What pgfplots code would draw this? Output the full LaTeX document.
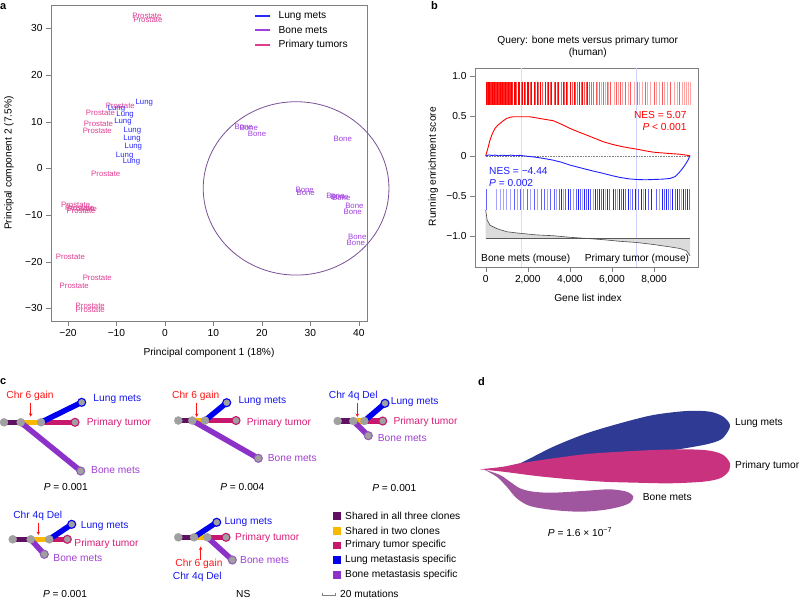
\documentclass[border=0pt]{standalone}
\usepackage{pgfplots}
\pgfplotsset{compat=1.18}
\usepackage{fontspec}
\setmainfont{Liberation Sans}
\usetikzlibrary{arrows.meta}
\definecolor{lungA}{RGB}{40,40,255}
\definecolor{boneA}{RGB}{160,64,224}
\definecolor{primA}{RGB}{224,60,145}
\definecolor{circC}{RGB}{120,80,150}
\definecolor{gRed}{RGB}{255,0,0}
\definecolor{gBlue}{RGB}{30,30,255}
\definecolor{shA}{RGB}{96,16,96}
\definecolor{shB}{RGB}{250,185,0}
\definecolor{primC}{RGB}{200,24,110}
\definecolor{lungC}{RGB}{0,0,240}
\definecolor{boneC}{RGB}{140,50,200}
\definecolor{redT}{RGB}{255,20,20}
\definecolor{lungT}{RGB}{20,20,240}
\definecolor{primT}{RGB}{215,30,120}
\definecolor{boneT}{RGB}{160,64,210}
\definecolor{nodeG}{RGB}{160,160,160}
\definecolor{lungD}{RGB}{46,58,148}
\definecolor{primD}{RGB}{200,50,126}
\definecolor{boneD}{RGB}{160,86,159}
\newcommand{\fs}{\fontsize{10.2bp}{12bp}\selectfont}
\newcommand{\fss}{\fontsize{7.8bp}{9bp}\selectfont}
\newcommand{\fl}{\fontsize{11bp}{13bp}\selectfont\bfseries}
\begin{document}
\begin{tikzpicture}
\path[use as bounding box] (0,0) rectangle (800bp,-599bp);
\node[anchor=west,font=\fl,inner sep=0pt] at (0bp,-7bp) {a};
\node[anchor=west,font=\fl,inner sep=0pt] at (431bp,-6bp) {b};
\node[anchor=west,font=\fl,inner sep=0pt] at (0bp,-382bp) {c};
\node[anchor=west,font=\fl,inner sep=0pt] at (478bp,-382bp) {d};
% ---------------- panel a
\begin{axis}[at={(51bp,-5bp)}, anchor=north west, scale only axis,
  width=316bp, height=316bp,
  xmin=-23.5, xmax=41.7, ymin=-32.7, ymax=35,
  axis line style={gray}, tick style={gray}, tick align=outside,
  xtick pos=bottom, ytick pos=left, major tick length=5bp,
  xtick={-20,-10,0,10,20,30,40}, xticklabels={−20,−10,0,10,20,30,40},
  ytick={-30,-20,-10,0,10,20,30}, yticklabels={−30,−20,−10,0,10,20,30},
  ticklabel style={font=\fs},
  xlabel={Principal component 1 (18\%)}, ylabel={Principal component 2 (7.5\%)},
  label style={font=\fs},
  xlabel style={at={(axis description cs:0.5,-0.1003)}, anchor=center},
  ylabel style={at={(axis description cs:-0.133,0.5)}, anchor=center},
  clip=false,
]
% legend drawn in data units
\addplot[draw=lungA, line width=2bp] coordinates {(18.67,32.74) (21.76,32.74)};
\addplot[draw=boneA, line width=2bp] coordinates {(18.67,29.74) (21.76,29.74)};
\addplot[draw=primA, line width=2bp] coordinates {(18.67,26.53) (21.76,26.53)};
\node[font=\fs, anchor=west, inner sep=0pt] at (axis cs:23.42,32.74) {Lung mets};
\node[font=\fs, anchor=west, inner sep=0pt] at (axis cs:23.42,29.74) {Bone mets};
\node[font=\fs, anchor=west, inner sep=0pt] at (axis cs:23.42,26.53) {Primary tumors};
\addplot[draw=none, mark=none, nodes near coords={Prostate},
  every node near coord/.append style={font=\fss, text=primA, anchor=center, inner sep=0pt}]
coordinates {(-3.7,32.7) (-3.5,31.8) (-9.2,13.3) (-13.3,11.9) (-13.7,9.6) (-13.95,8.0)
 (-12.2,-1.1) (-18.4,-7.9) (-17.6,-8.4) (-17.0,-8.6) (-17.3,-9.1) (-19.5,-18.9)
 (-13.95,-23.4) (-18.7,-25.2) (-15.4,-29.5) (-15.4,-30.3)};
\addplot[draw=none, mark=none, nodes near coords={Lung},
  every node near coord/.append style={font=\fss, text=lungA, anchor=center, inner sep=0pt}]
coordinates {(-4.25,14.1) (-10.0,12.85) (-8.2,11.6) (-8.65,10.1) (-6.7,8.0) (-6.8,6.35)
 (-6.5,4.6) (-8.3,2.8) (-6.9,1.5)};
\addplot[draw=none, mark=none, nodes near coords={Bone},
  every node near coord/.append style={font=\fss, text=boneA, anchor=center, inner sep=0pt}]
coordinates {(16.25,8.8) (17.3,8.6) (19.0,7.5) (36.7,6.3) (28.85,-4.65) (29.05,-5.2)
 (35.2,-5.8) (36.0,-6.2) (36.4,-6.4) (39.1,-8.1) (38.75,-9.3) (39.7,-14.7) (39.4,-15.9)};
\draw[circC, line width=0.8bp] (axis cs:27.07,-4.29) ellipse [x radius=19.16, y radius=18.57];
\end{axis}
% ---------------- panel b
\begin{axis}[at={(475bp,-68.3bp)}, anchor=north west, scale only axis,
  width=223.3bp, height=198.4bp,
  xmin=-508, xmax=10104, ymin=-1.388, ymax=1.096,
  axis line style={gray}, tick style={gray}, tick align=outside,
  xtick pos=bottom, ytick pos=left, major tick length=5bp,
  scaled x ticks=false, scaled y ticks=false,
  xtick={0,2000,4000,6000,8000}, xticklabels={0,{2,000},{4,000},{6,000},{8,000}},
  ytick={-1,-0.5,0,0.5,1}, yticklabels={−1.0,−0.5,0,0.5,1.0},
  ticklabel style={font=\fs},
  xlabel={Gene list index}, ylabel={Running enrichment score},
  label style={font=\fs},
  xlabel style={at={(axis description cs:0.506,-0.159)}, anchor=center},
  ylabel style={at={(axis description cs:-0.187,0.504)}, anchor=center},
  title={Query: bone mets versus primary tumor\\(human)},
  title style={font=\fs, align=center, at={(axis description cs:0.505,1.08)}, anchor=center},
  clip=false,
]
\addplot[red!18, line width=0.6bp] coordinates {(1710,-1.388) (1710,1.096)};
\addplot[blue!18, line width=0.6bp] coordinates {(7180,-1.388) (7180,1.096)};
% red hit bars
\addplot[fill=gRed!85, draw=none] coordinates {(0,0.64) (1300,0.64) (1300,0.93) (0,0.93)};
\addplot[only marks, mark=|, mark size=11.6bp, mark options={gRed, line width=1bp}] coordinates {
 (30,0.785) (120,0.785) (200,0.785) (330,0.785) (420,0.785) (560,0.785) (700,0.785) (820,0.785)
 (950,0.785) (1100,0.785) (1230,0.785) (1350,0.785) (1400,0.785) (1560,0.785) (1620,0.785)
 (1760,0.785) (1850,0.785) (1980,0.785) (2050,0.785) (2200,0.785) (2300,0.785) (2450,0.785)
 (2600,0.785) (2850,0.785) (3000,0.785) (3150,0.785) (3320,0.785) (3480,0.785) (3680,0.785)
 (3830,0.785) (4050,0.785) (4200,0.785) (4450,0.785) (4600,0.785) (4850,0.785)};
\addplot[only marks, mark=|, mark size=11.6bp, mark options={gRed!65, line width=1bp}] coordinates {
 (1480,0.785) (1700,0.785) (1900,0.785) (2130,0.785) (2350,0.785) (2520,0.785) (2680,0.785)
 (2930,0.785) (3080,0.785) (3250,0.785) (3400,0.785) (3600,0.785) (3750,0.785) (3900,0.785)
 (4120,0.785) (4280,0.785) (4350,0.785) (4530,0.785) (4700,0.785) (4780,0.785) (4950,0.785)
 (5020,0.785) (5100,0.785) (5250,0.785) (5420,0.785) (5600,0.785) (5780,0.785) (5950,0.785)
 (6200,0.785) (6400,0.785) (6650,0.785) (6900,0.785) (7200,0.785) (7600,0.785) (8000,0.785)
 (8400,0.785) (8800,0.785) (9200,0.785)};
\addplot[only marks, mark=|, mark size=11.6bp, mark options={gRed!35, line width=1bp}] coordinates {
 (5330,0.785) (5500,0.785) (5680,0.785) (5850,0.785) (6100,0.785) (6300,0.785) (6520,0.785)
 (6780,0.785) (7050,0.785) (7300,0.785) (7450,0.785) (7700,0.785) (7850,0.785) (8100,0.785)
 (8250,0.785) (8500,0.785) (8650,0.785) (8950,0.785) (9100,0.785) (9350,0.785) (9450,0.785)
 (9550,0.785) (9650,0.785) (9740,0.785)};
% blue hit bars
\addplot[only marks, mark=|, mark size=10.5bp, mark options={gBlue!40, line width=1bp}] coordinates {
 (500,-0.5485) (700,-0.5485) (850,-0.5485) (1000,-0.5485) (1200,-0.5485) (1500,-0.5485)
 (1800,-0.5485) (2150,-0.5485) (2450,-0.5485) (2950,-0.5485) (3350,-0.5485) (3700,-0.5485)
 (4150,-0.5485) (4600,-0.5485) (5100,-0.5485) (5700,-0.5485) (6250,-0.5485) (6900,-0.5485)
 (7500,-0.5485) (8250,-0.5485) (8800,-0.5485) (9300,-0.5485)};
\addplot[only marks, mark=|, mark size=10.5bp, mark options={gBlue!70, line width=1bp}] coordinates {
 (60,-0.5485) (1350,-0.5485) (1650,-0.5485) (2000,-0.5485) (2300,-0.5485) (2650,-0.5485)
 (2800,-0.5485) (3100,-0.5485) (3250,-0.5485) (3500,-0.5485) (3800,-0.5485) (4050,-0.5485)
 (4300,-0.5485) (4500,-0.5485) (4800,-0.5485) (5000,-0.5485) (5300,-0.5485) (5500,-0.5485)
 (5900,-0.5485) (6150,-0.5485) (6450,-0.5485) (6650,-0.5485) (7000,-0.5485) (7250,-0.5485)
 (7750,-0.5485) (8100,-0.5485) (8500,-0.5485) (8700,-0.5485) (9000,-0.5485) (9200,-0.5485)
 (9500,-0.5485) (9700,-0.5485)};
\addplot[only marks, mark=|, mark size=10.5bp, mark options={gBlue, line width=1bp}] coordinates {
 (3600,-0.5485) (3950,-0.5485) (4400,-0.5485) (4700,-0.5485) (4900,-0.5485) (5200,-0.5485)
 (5400,-0.5485) (5600,-0.5485) (5800,-0.5485) (6050,-0.5485) (6350,-0.5485) (6550,-0.5485)
 (6800,-0.5485) (7100,-0.5485) (7400,-0.5485) (7600,-0.5485) (7900,-0.5485) (8400,-0.5485)
 (8600,-0.5485) (8900,-0.5485) (9100,-0.5485) (9400,-0.5485) (9600,-0.5485)};
% ranked list metric
\addplot[fill=gray!28, draw=none] coordinates {
 (0,-0.68) (70,-0.805) (204,-0.868) (520,-0.91) (998,-0.95) (1630,-0.97) (2420,-0.99)
 (3210,-1.0) (4010,-1.02) (4800,-1.034) (5590,-1.05) (6380,-1.07) (7180,-1.085) (7970,-1.11)
 (8760,-1.14) (9230,-1.16) (9550,-1.19) (9710,-1.25) (9710,-1.034) (0,-1.034)};
\addplot[gray!70!black, line width=0.9bp] coordinates {(0,-1.034) (9710,-1.034)};
\addplot[gray!60!black, line width=0.6bp] coordinates {
 (0,-0.68) (70,-0.805) (204,-0.868) (520,-0.91) (998,-0.95) (1630,-0.97) (2420,-0.99)
 (3210,-1.0) (4010,-1.02) (4800,-1.034) (5590,-1.05) (6380,-1.07) (7180,-1.085) (7970,-1.11)
 (8760,-1.14) (9230,-1.16) (9550,-1.19) (9710,-1.25)};
\addplot[gray, densely dotted, line width=0.6bp] coordinates {(0,0) (9710,0)};
% running enrichment scores
\addplot[gRed, line width=0.9bp] coordinates {
 (0,0) (100,0.09) (204,0.197) (320,0.28) (442,0.343) (560,0.38) (680,0.405) (840,0.44)
 (998,0.468) (1150,0.482) (1315,0.489) (1700,0.49) (2100,0.489) (2400,0.476) (2740,0.46)
 (3210,0.44) (3600,0.395) (4010,0.343) (4400,0.3) (4800,0.26) (5200,0.218) (5590,0.176)
 (6000,0.145) (6380,0.121) (6800,0.1) (7180,0.084) (7600,0.062) (7970,0.046) (8400,0.036)
 (8760,0.029) (9230,0.02) (9500,0.01) (9710,0)};
\addplot[gBlue, line width=0.9bp] coordinates {
 (0,0) (150,0.012) (300,0.004) (450,0.01) (600,0.0) (800,0.008) (1000,0.002) (1200,0.009)
 (1400,0.001) (1630,0.006) (1900,-0.003) (2260,-0.013) (2700,-0.03) (3210,-0.054) (3600,-0.08)
 (4010,-0.116) (4400,-0.143) (4800,-0.17) (5200,-0.196) (5590,-0.22) (6000,-0.248)
 (6380,-0.27) (6800,-0.288) (7180,-0.296) (7600,-0.3) (7970,-0.296) (8400,-0.292)
 (8760,-0.283) (9000,-0.26) (9160,-0.22) (9320,-0.17) (9470,-0.116) (9600,-0.06) (9710,0)};
\node[font=\fs, text=gRed, anchor=east, inner sep=0pt] at (axis cs:9553,0.51) {NES = 5.07};
\node[font=\fs, text=gRed, anchor=east, inner sep=0pt] at (axis cs:9553,0.363) {\textit{P} < 0.001};
\node[font=\fs, text=gBlue, anchor=west, inner sep=0pt] at (axis cs:157,-0.188) {NES = −4.44};
\node[font=\fs, text=gBlue, anchor=west, inner sep=0pt] at (axis cs:157,-0.338) {\textit{P} = 0.002};
\node[font=\fs, anchor=west, inner sep=0pt] at (axis cs:-223,-1.285) {Bone mets (mouse)};
\node[font=\fs, anchor=east, inner sep=0pt] at (axis cs:9677,-1.285) {Primary tumor (mouse)};
\end{axis}
% ---------------- panels c and d (pixel-unit axis)
\begin{axis}[at={(0bp,-370bp)}, anchor=north west, scale only axis,
  width=800bp, height=229bp, xmin=0, xmax=800, ymin=370, ymax=599,
  y dir=reverse, hide axis, clip=false]
% --- tree 1
\addplot[shA, line width=5.5bp] coordinates {(4,422.3) (20.7,422.3)};
\addplot[shB, line width=5.5bp] coordinates {(20.7,422.3) (41,422.3)};
\addplot[primC, line width=5.5bp] coordinates {(41,422.3) (75,422.3)};
\addplot[boneC, line width=5.5bp] coordinates {(20.7,422.3) (80.7,471)};
\addplot[lungC, line width=5.5bp] coordinates {(41,422.3) (81.7,402.3)};
% --- tree 2
\addplot[shA, line width=5.5bp] coordinates {(178.3,420.5) (192.3,420.5)};
\addplot[shB, line width=5.5bp] coordinates {(192.3,420.5) (205,420.5)};
\addplot[primC, line width=5.5bp] coordinates {(205,420.5) (236,420.5)};
\addplot[boneC, line width=5.5bp] coordinates {(192.3,420.5) (258.3,458.3)};
\addplot[lungC, line width=5.5bp] coordinates {(205,420.5) (226.7,402.7)};
% --- tree 3
\addplot[shA, line width=5.5bp] coordinates {(337.7,421) (353.3,421)};
\addplot[shB, line width=5.5bp] coordinates {(353.3,421) (364.3,421)};
\addplot[primC, line width=5.5bp] coordinates {(364.3,421) (382.7,421)};
\addplot[boneC, line width=5.5bp] coordinates {(353.3,421) (368.3,435.7)};
\addplot[lungC, line width=5.5bp] coordinates {(364.3,421) (385,403.3)};
% --- tree 4
\addplot[shA, line width=5.5bp] coordinates {(12.7,539.3) (30.7,539.3)};
\addplot[shB, line width=5.5bp] coordinates {(30.7,539.3) (49.3,539.3)};
\addplot[primC, line width=5.5bp] coordinates {(49.3,539.3) (67.3,539.3)};
\addplot[boneC, line width=5.5bp] coordinates {(30.7,539.3) (44.3,554.3)};
\addplot[lungC, line width=5.5bp] coordinates {(49.3,539.3) (71.7,524.3)};
% --- tree 5
\addplot[shA, line width=5.5bp] coordinates {(178.3,537.3) (194,537.3)};
\addplot[shB, line width=5.5bp] coordinates {(194,537.3) (207.3,537.3)};
\addplot[primC, line width=5.5bp] coordinates {(207.3,537.3) (226,537.3)};
\addplot[boneC, line width=5.5bp] coordinates {(207.3,537.3) (232.3,560)};
\addplot[lungC, line width=5.5bp] coordinates {(194,537.3) (216.7,522.3)};
% nodes
\addplot[only marks, mark=*, mark size=4bp, mark options={fill=nodeG, draw=nodeG}] coordinates {
 (4,422.3) (20.7,422.3) (41,422.3) (178.3,420.5) (192.3,420.5) (205,420.5)
 (337.7,421) (353.3,421) (364.3,421) (12.7,539.3) (30.7,539.3) (49.3,539.3)
 (178.3,537.3) (194,537.3) (207.3,537.3)};
\addplot[only marks, mark=*, mark size=4bp, mark options={fill=nodeG, draw=primC, line width=1.1bp}] coordinates {
 (75,422.3) (236,420.5) (382.7,421) (67.3,539.3) (226,537.3)};
\addplot[only marks, mark=*, mark size=4bp, mark options={fill=nodeG, draw=lungC, line width=1.1bp}] coordinates {
 (81.7,402.3) (226.7,402.7) (385,403.3) (71.7,524.3) (216.7,522.3)};
\addplot[only marks, mark=*, mark size=4bp, mark options={fill=nodeG, draw=boneC!60!nodeG, line width=1.1bp}] coordinates {
 (80.7,471) (258.3,458.3) (368.3,435.7) (44.3,554.3) (232.3,560)};
% arrows
\addplot[redT, line width=0.8bp, -{Stealth[length=3.5bp,width=3.5bp]}] coordinates {(30.7,403) (30.7,416.7)};
\addplot[redT, line width=0.8bp, -{Stealth[length=3.5bp,width=3.5bp]}] coordinates {(196.7,403) (196.7,417)};
\addplot[redT, line width=0.8bp, -{Stealth[length=3.5bp,width=3.5bp]}] coordinates {(357.3,403) (357.3,417)};
\addplot[redT, line width=0.8bp, -{Stealth[length=3.5bp,width=3.5bp]}] coordinates {(38.3,523.3) (38.3,535)};
\addplot[redT, line width=0.8bp, -{Stealth[length=3.5bp,width=3.5bp]}] coordinates {(200.7,560) (200.7,546.5)};
% tree labels
\node[font=\fs, text=redT, anchor=center] at (axis cs:30,396) {Chr 6 gain};
\node[font=\fs, text=lungT, anchor=west, inner sep=0pt] at (axis cs:93.3,399) {Lung mets};
\node[font=\fs, text=primT, anchor=west, inner sep=0pt] at (axis cs:86.7,422.7) {Primary tumor};
\node[font=\fs, text=boneT, anchor=west, inner sep=0pt] at (axis cs:91,470) {Bone mets};
\node[font=\fs, anchor=center] at (axis cs:65.8,486.7) {\textit{P} = 0.001};
\node[font=\fs, text=redT, anchor=center] at (axis cs:195.7,396) {Chr 6 gain};
\node[font=\fs, text=lungT, anchor=west, inner sep=0pt] at (axis cs:238.3,401.3) {Lung mets};
\node[font=\fs, text=primT, anchor=west, inner sep=0pt] at (axis cs:246.7,422.7) {Primary tumor};
\node[font=\fs, text=boneT, anchor=west, inner sep=0pt] at (axis cs:267.7,458.3) {Bone mets};
\node[font=\fs, anchor=center] at (axis cs:242.3,487.3) {\textit{P} = 0.004};
\node[font=\fs, text=lungT, anchor=center] at (axis cs:353.3,396) {Chr 4q Del};
\node[font=\fs, text=lungT, anchor=west, inner sep=0pt] at (axis cs:390.7,401.7) {Lung mets};
\node[font=\fs, text=primT, anchor=west, inner sep=0pt] at (axis cs:393.3,422) {Primary tumor};
\node[font=\fs, text=boneT, anchor=west, inner sep=0pt] at (axis cs:377.7,437.7) {Bone mets};
\node[font=\fs, anchor=center] at (axis cs:394.3,487.7) {\textit{P} = 0.001};
\node[font=\fs, text=lungT, anchor=center] at (axis cs:37.7,515.7) {Chr 4q Del};
\node[font=\fs, text=lungT, anchor=west, inner sep=0pt] at (axis cs:80.7,526) {Lung mets};
\node[font=\fs, text=primT, anchor=west, inner sep=0pt] at (axis cs:74.3,544) {Primary tumor};
\node[font=\fs, text=boneT, anchor=west, inner sep=0pt] at (axis cs:53.3,558.3) {Bone mets};
\node[font=\fs, anchor=center, inner sep=0pt] at (axis cs:65,593.5) {\textit{P} = 0.001};
\node[font=\fs, text=redT, anchor=center] at (axis cs:199,564.3) {Chr 6 gain};
\node[font=\fs, text=lungT, anchor=center] at (axis cs:197.3,576.7) {Chr 4q Del};
\node[font=\fs, text=lungT, anchor=west, inner sep=0pt] at (axis cs:224.3,521.7) {Lung mets};
\node[font=\fs, text=primT, anchor=west, inner sep=0pt] at (axis cs:235,537.7) {Primary tumor};
\node[font=\fs, text=boneT, anchor=west, inner sep=0pt] at (axis cs:240,560) {Bone mets};
\node[font=\fs, anchor=center, inner sep=0pt] at (axis cs:243.3,593.5) {NS};
% legend of c
\addplot[only marks, mark=square*, mark size=3.4bp, mark options={shA}] coordinates {(336.7,516)};
\addplot[only marks, mark=square*, mark size=3.4bp, mark options={shB}] coordinates {(336.7,530.7)};
\addplot[only marks, mark=square*, mark size=3.4bp, mark options={primC}] coordinates {(336.7,545.2)};
\addplot[only marks, mark=square*, mark size=3.4bp, mark options={lungC}] coordinates {(336.7,559.8)};
\addplot[only marks, mark=square*, mark size=3.4bp, mark options={boneC}] coordinates {(336.7,574.4)};
\node[font=\fs, anchor=west, inner sep=0pt] at (axis cs:345,516) {Shared in all three clones};
\node[font=\fs, anchor=west, inner sep=0pt] at (axis cs:345,530.7) {Shared in two clones};
\node[font=\fs, anchor=west, inner sep=0pt] at (axis cs:345,545.2) {Primary tumor specific};
\node[font=\fs, anchor=west, inner sep=0pt] at (axis cs:345,559.8) {Lung metastasis specific};
\node[font=\fs, anchor=west, inner sep=0pt] at (axis cs:345,574.4) {Bone metastasis specific};
\addplot[gray, line width=0.6bp] coordinates {(322,592.5) (322,595) (335,595) (335,592.5)};
\node[font=\fs, anchor=west, inner sep=0pt] at (axis cs:340,593.5) {20 mutations};
% --- panel d fish plot
\addplot[fill=boneD, draw=none, smooth] coordinates {
 (484,469.5) (500,475) (510,481.7) (520,488.3) (533.3,491.7) (553.3,492.7) (586.7,490.7)
 (610,489.3) (626.7,491.7) (633.3,496.7) (630,502.7) (620,506.7) (603.3,510) (580,511.7)
 (553.3,510) (530,506) (516.7,498.3) (506.7,486.7) (496.7,476.7) (484,469.5)};
\addplot[fill=lungD, draw=none, smooth] coordinates {
 (505,467) (520,463.3) (553.3,446.7) (586.7,433.3) (620,423.3) (653.3,415) (686.7,411)
 (710,411.7) (723.3,416.7) (730,425) (726.7,433.3) (720,440) (703.3,445) (660,452)
 (600,458) (540,465) (505,467)};
\addplot[fill=primD, draw=none, smooth] coordinates {
 (480,469.3) (503.3,466.7) (520,463.3) (553.3,458.3) (586.7,454) (620,451.7) (653.3,450)
 (686.7,449.3) (710,450.7) (723.3,455) (730,463.3) (728.3,471.7) (720,478.3) (703.3,481.7)
 (670,483.3) (636.7,482.7) (603.3,481.7) (570,479.3) (536.7,476) (503.3,471.7) (480,469.3)};
\node[font=\fs, anchor=west, inner sep=0pt] at (axis cs:735,422.7) {Lung mets};
\node[font=\fs, anchor=west, inner sep=0pt] at (axis cs:735,466) {Primary tumor};
\node[font=\fs, anchor=west, inner sep=0pt] at (axis cs:642.7,496.7) {Bone mets};
\node[font=\fs, anchor=center] at (axis cs:580,532.3) {\textit{P} = 1.6 × 10\textsuperscript{−7}};
\end{axis}
\end{tikzpicture}
\end{document}
